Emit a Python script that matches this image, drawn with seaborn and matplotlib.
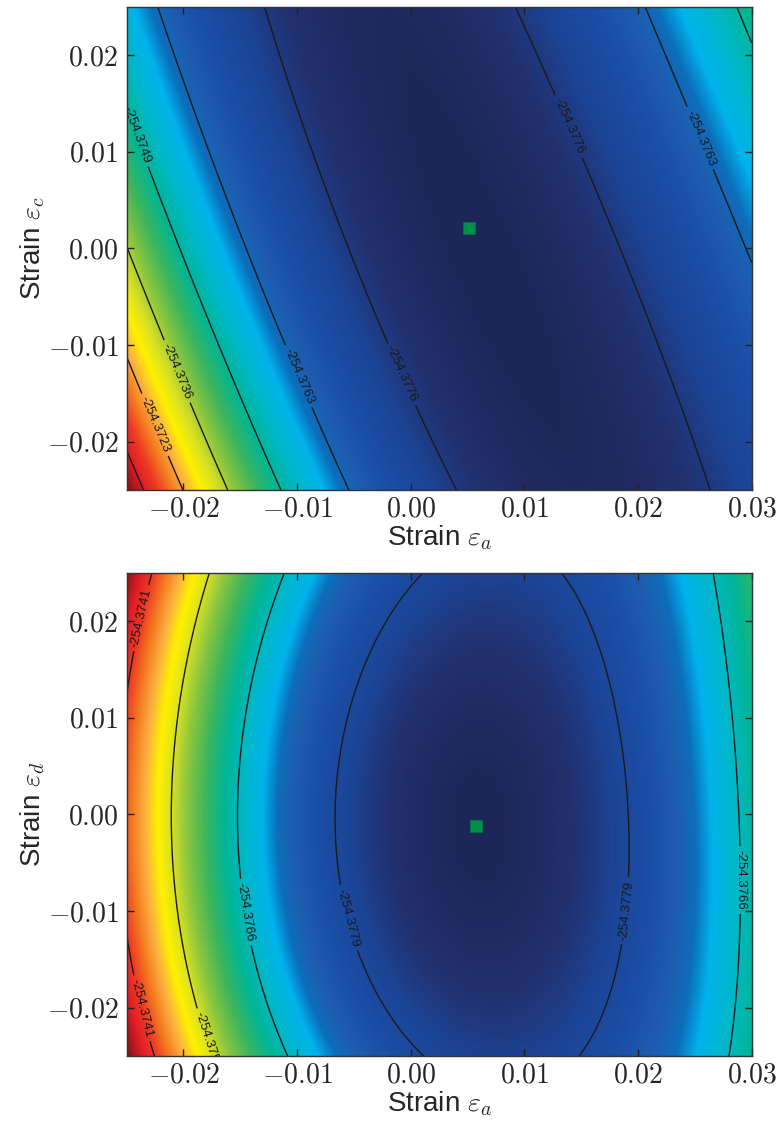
import numpy as np
import matplotlib
matplotlib.use("Agg")
import matplotlib.pyplot as plt
from matplotlib.colors import LinearSegmentedColormap
from matplotlib.ticker import FuncFormatter
import seaborn as sns

# ---------------- data ----------------
# axis ranges / ticks
x_range = [-0.025, 0.03]
y_range = [-0.025, 0.025]
x_ticks = [-0.02, -0.01, 0.00, 0.01, 0.02, 0.03]
y_ticks = [-0.02, -0.01, 0.00, 0.01, 0.02]

# top panel: contour levels and where each level crosses the picture
top_levels = [-254.37760, -254.37627, -254.37494, -254.37361, -254.37228, -254.37095]
T0, T1, T2, T3, T4, T5 = top_levels
top_cross_x = [-0.02342, -0.0200, -0.01604, -0.01135, -0.00549, 0.0033, 0.0260,
               -0.0131, 0.00967, -0.02205, 0.02046, 0.0285,
               -0.025, -0.025, -0.025, -0.025,
               0.03, 0.03,
               -0.0201, -0.0140, -0.0056, 0.0184]
top_cross_y = [-0.025, -0.025, -0.025, -0.025, -0.025, -0.025, -0.025,
               0.025, 0.025, 0.025, 0.025, 0.025,
               0.0140, 0.0, -0.0115, -0.0213,
               -0.0006, 0.0218,
               0.0, 0.0, 0.0, 0.0]
top_cross_E = [T5, T4, T3, T2, T1, T0, T0,
               T0, T0, T1, T1, T2,
               T2, T3, T4, T5,
               T1, T2,
               T2, T1, T0, T0]
top_min = (0.0051, 0.0021)

# bottom panel
bot_levels = [-254.37790, -254.37663, -254.37536, -254.37409]
B0, B1, B2, B3 = bot_levels
bot_cross_x = [-0.02088, -0.01486, -0.00651, 0.01891, 0.02934,
               -0.0228, -0.01752, -0.0109, 0.0, 0.01395, 0.0263,
               -0.0225, -0.0172, -0.01093, 0.0, 0.01454, 0.0279,
               -0.025, -0.025]
bot_cross_y = [0.0, 0.0, 0.0, 0.0, 0.0,
               0.025, 0.025, 0.025, 0.025, 0.025, 0.025,
               -0.025, -0.025, -0.025, -0.025, -0.025, -0.025,
               0.0139, -0.0140]
bot_cross_E = [B2, B1, B0, B0, B1,
               B3, B2, B1, B0, B0, B1,
               B3, B2, B1, B0, B0, B1,
               B3, B3]
bot_min = (0.0057, -0.0012)

# label anchor spots for the contour labels
top_label_pos = [(-0.0240, 0.0118), (-0.0205, -0.0127), (-0.0224, -0.0182),
                 (-0.0100, -0.0133), (-0.0013, -0.0133), (0.0142, 0.0128),
                 (0.0252, 0.0113)]
bot_label_pos = [(-0.0237, 0.0203), (-0.0237, -0.0201), (-0.0176, -0.0233),
                 (-0.0139, -0.0100), (-0.0059, -0.0108), (0.0184, -0.0099),
                 (0.0294, -0.0068)]

# colour map stops
cmap_pos = [0.00, 0.05, 0.10, 0.16, 0.22, 0.26, 0.30, 0.36, 0.42, 0.49, 0.56, 0.62,
            0.68, 0.74, 0.80, 0.86, 0.92, 1.00]
cmap_col = ["#1d2658", "#22316f", "#1c4394", "#1a4ea6", "#1e5cae", "#0c6fbc",
            "#00b3ec", "#00b8c8", "#00b596", "#3fb55c", "#8cc63f", "#d4df26",
            "#fff200", "#fbb040", "#f47a20", "#ee3b24", "#e11d26", "#7d1414"]

# ---------------- surface fit through the read crossings ----------------
E_REF = -254.378


def design(x, y):
    X = np.asarray(x) * 100.0
    Y = np.asarray(y) * 100.0
    return np.stack([np.ones_like(X), X, Y, X**2, X * Y, Y**2,
                     X**3, X**2 * Y, X * Y**2, Y**3], axis=-1)


def grad_rows(x, y):
    X, Y = x * 100.0, y * 100.0
    gx = [0, 1, 0, 2 * X, Y, 0, 3 * X**2, 2 * X * Y, Y**2, 0]
    gy = [0, 0, 1, 0, X, 2 * Y, 0, X**2, 2 * X * Y, 3 * Y**2]
    return np.array([gx, gy], dtype=float)


def fit_surface(cx, cy, cE, mn):
    A = design(cx, cy)
    b = (np.asarray(cE) - E_REF) * 1000.0
    w = 3.0
    A = np.vstack([A, w * grad_rows(*mn)])
    b = np.concatenate([b, [0.0, 0.0]])
    coef, *_ = np.linalg.lstsq(A, b, rcond=None)
    return coef


xg = np.linspace(x_range[0], x_range[1], 500)
yg = np.linspace(y_range[0], y_range[1], 500)
XX, YY = np.meshgrid(xg, yg)


def surface(coef):
    return design(XX, YY) @ coef / 1000.0 + E_REF


Z_top = surface(fit_surface(top_cross_x, top_cross_y, top_cross_E, top_min))
Z_bot = surface(fit_surface(bot_cross_x, bot_cross_y, bot_cross_E, bot_min))

# ---------------- styling ----------------
sns.set_theme(style="ticks")
plt.rcParams["font.family"] = ["Liberation Sans", "DejaVu Sans"]
plt.rcParams["mathtext.fontset"] = "cm"
plt.rcParams["axes.edgecolor"] = "#333333"
plt.rcParams["axes.linewidth"] = 1.0
plt.rcParams["contour.negative_linestyle"] = "solid"

cmap = LinearSegmentedColormap.from_list("strain", list(zip(cmap_pos, cmap_col)), N=512)

fig = plt.figure(figsize=(7.8, 11.22), dpi=100)
ax_top = fig.add_axes([0.1624, 0.5633, 0.8013, 0.4305])
ax_bot = fig.add_axes([0.1624, 0.0588, 0.8013, 0.4308])

tick_fmt = FuncFormatter(lambda v, p: f"${v:.2f}$")


def draw_panel(ax, Z, levels, label_pos, mn, ylabel):
    ax.imshow(Z, extent=[x_range[0], x_range[1], y_range[0], y_range[1]],
              origin="lower", aspect="auto", cmap=cmap,
              vmin=Z.min(), vmax=Z.max(), interpolation="bilinear", zorder=0)
    cs = ax.contour(XX, YY, Z, levels=levels, colors="k", linewidths=1.0,
                    linestyles="solid", zorder=2)
    ax.set_xlim(*x_range)
    ax.set_ylim(*y_range)
    ax.clabel(cs, fmt="%.4f", fontsize=9.5, inline=True,
              inline_spacing=4, manual=label_pos)
    for t in cs.labelTexts:
        t.set_clip_on(True)
        t.set_clip_box(ax.bbox)
        t.set_color("#1a1a1a")
    sns.scatterplot(x=[mn[0]], y=[mn[1]], marker="s", s=75, color="#00904a",
                    edgecolor="#00753a", linewidth=0.6, ax=ax, zorder=5, legend=False)
    ax.set_xticks(x_ticks)
    ax.set_yticks(y_ticks)
    ax.xaxis.set_major_formatter(tick_fmt)
    ax.yaxis.set_major_formatter(tick_fmt)
    ax.tick_params(direction="in", length=5, width=1, color="#222222",
                   top=True, right=True, labelsize=20)
    ax.tick_params(axis="x", pad=5)
    ax.tick_params(axis="y", pad=6)
    ax.set_xlabel(r"Strain $\varepsilon_a$", fontsize=20, labelpad=0)
    ax.set_ylabel(ylabel, fontsize=20, labelpad=0)
    for s in ax.spines.values():
        s.set_visible(True)
        s.set_color("#333333")
        s.set_zorder(6)


draw_panel(ax_top, Z_top, top_levels, top_label_pos, top_min, r"Strain $\varepsilon_c$")
draw_panel(ax_bot, Z_bot, bot_levels, bot_label_pos, bot_min, r"Strain $\varepsilon_d$")

fig.savefig("out.png", dpi=100)
